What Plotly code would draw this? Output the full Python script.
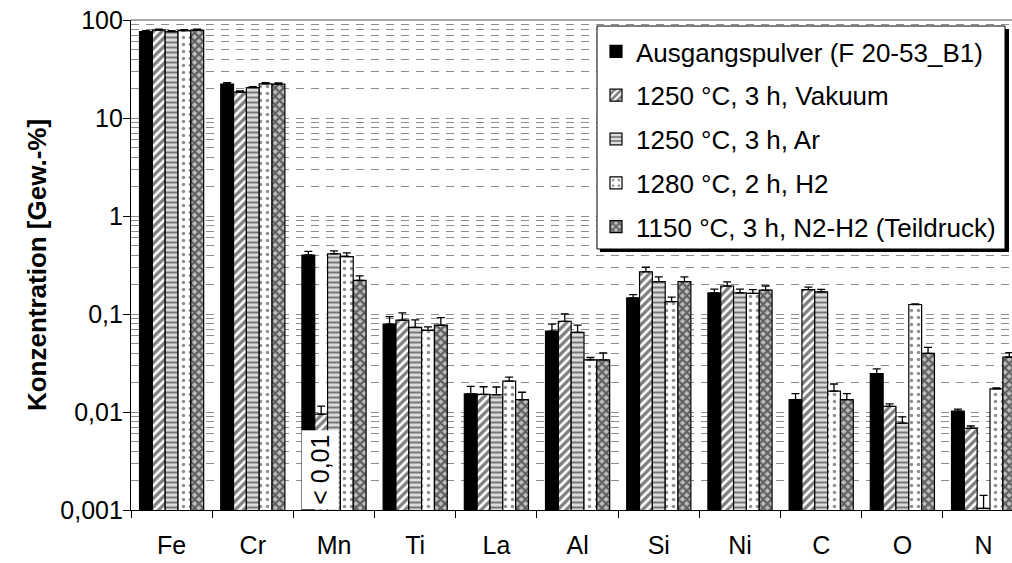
import plotly.graph_objects as go

# Elements on the x axis
elements = ["Fe", "Cr", "Mn", "Ti", "La", "Al", "Si", "Ni", "C", "O", "N"]

# Series names (legend)
series_names = [
    "Ausgangspulver (F 20-53_B1)",
    "1250 °C, 3 h, Vakuum",
    "1250 °C, 3 h, Ar",
    "1280 °C, 2 h, H2",
    "1150 °C, 3 h, N2-H2 (Teildruck)",
]

# Concentrations in Gew.-% per series
ausgangspulver = [76, 22.2, 0.40, 0.079, 0.0153, 0.067, 0.146, 0.164, 0.0134, 0.0246, 0.0102]
vakuum = [79, 18.4, 0.0095, 0.0865, 0.0151, 0.084, 0.27, 0.193, 0.177, 0.0114, 0.0068]
argon = [76, 20.4, 0.41, 0.073, 0.015, 0.065, 0.214, 0.164, 0.168, 0.0077, 0.00104]
wasserstoff = [78, 22.3, 0.385, 0.068, 0.0207, 0.034, 0.134, 0.162, 0.0163, 0.125, 0.0172]
n2_h2 = [79, 22.2, 0.22, 0.077, 0.0134, 0.034, 0.214, 0.175, 0.0134, 0.0397, 0.0364]

# Upper error (standard deviation) per series
err_ausgangspulver = [2, 0.8, 0.035, 0.015, 0.003, 0.012, 0.012, 0.015, 0.002, 0.003, 0.0005]
err_vakuum = [1.5, 0.5, 0.002, 0.016, 0.003, 0.016, 0.03, 0.02, 0.011, 0.0007, 0.0004]
err_argon = [2, 0.5, 0.03, 0.014, 0.003, 0.012, 0.025, 0.015, 0.01, 0.0012, 0.00037]
err_wasserstoff = [1.5, 0.6, 0.035, 0.006, 0.002, 0.002, 0.015, 0.015, 0.003, 0.002, 0.0004]
err_n2_h2 = [1.5, 0.6, 0.025, 0.015, 0.0025, 0.006, 0.025, 0.018, 0.002, 0.006, 0.004]

values = [ausgangspulver, vakuum, argon, wasserstoff, n2_h2]
errors = [err_ausgangspulver, err_vakuum, err_argon, err_wasserstoff, err_n2_h2]

# Fill patterns for the five series
patterns = [
    dict(shape="", bgcolor="black"),
    dict(shape="/", fgcolor="black", bgcolor="white", size=6, solidity=0.55),
    dict(shape="-", fgcolor="#111111", bgcolor="#dcdcdc", size=5, solidity=0.4),
    dict(shape=".", fgcolor="#222222", bgcolor="white", size=7, solidity=0.2),
    dict(shape="x", fgcolor="black", bgcolor="#c0c0c0", size=6, solidity=0.6),
]
base_colors = ["black", "white", "#dcdcdc", "white", "#c0c0c0"]

FONT = "Liberation Sans, Arial, sans-serif"

fig = go.Figure()
for i, (name, vals, errs) in enumerate(zip(series_names, values, errors)):
    fig.add_trace(go.Bar(
        x=elements,
        y=vals,
        name=name,
        legendgroup=f"g{i}",
        marker=dict(
            color=base_colors[i],
            pattern=patterns[i],
            line=dict(color="black", width=1.2),
        ),
        error_y=dict(
            type="data",
            symmetric=False,
            array=errs,
            arrayminus=[0] * len(errs),
            color="black",
            thickness=1.3,
            width=4,
        ),
    ))

# Tick values for the logarithmic axis
major_ticks = [0.001, 0.01, 0.1, 1, 10, 100]
major_labels = ["0,001", "0,01", "0,1", "1", "10", "100"]
minor_ticks = [m * 10 ** e for e in range(-3, 2) for m in range(2, 10)]

# plot area in pixels: x 131..1012 (right part runs past the page), y 20..510
PX0, PW, PY0, PH = 131, 881, 20, 490


def px_x(px):
    return (px - PX0) / PW


def px_y(py):
    return 1 - (py - PY0) / PH


fig.update_layout(
    width=1012,
    height=563,
    margin=dict(l=131, r=0, t=20, b=53),
    paper_bgcolor="white",
    plot_bgcolor="white",
    font=dict(family=FONT, size=25, color="black"),
    barmode="group",
    bargap=0.21,
    bargroupgap=0,
    showlegend=True,
    legend=dict(
        x=px_x(596),
        y=px_y(28),
        xanchor="left",
        yanchor="top",
        bgcolor="rgba(0,0,0,0)",
        borderwidth=0,
        font=dict(family=FONT, size=26, color="black"),
        traceorder="grouped",
        tracegroupgap=7,
        itemwidth=30,
    ),
    xaxis=dict(
        type="category",
        range=[-0.5, 10.35],
        showline=True,
        linecolor="black",
        linewidth=1.2,
        ticks="outside",
        tickson="boundaries",
        ticklen=7,
        tickcolor="black",
        ticklabelstandoff=13,
        showgrid=False,
        tickfont=dict(size=25),
    ),
    yaxis=dict(
        type="log",
        range=[-3, 2],
        tickmode="array",
        tickvals=major_ticks,
        ticktext=major_labels,
        showline=True,
        linecolor="black",
        linewidth=1.2,
        ticks="outside",
        ticklen=7,
        tickcolor="black",
        ticklabelstandoff=-5,
        showgrid=True,
        gridcolor="#8c8c8c",
        griddash="8px,7px",
        gridwidth=1,
        minor=dict(
            tickmode="array",
            tickvals=minor_ticks,
            ticks="",
            showgrid=True,
            gridcolor="#8c8c8c",
            griddash="8px,7px",
            gridwidth=1,
        ),
        zeroline=False,
        tickfont=dict(size=25),
        title=dict(
            text="<b>Konzentration [Gew.-%]</b>",
            font=dict(size=26),
            standoff=6,
        ),
    ),
    shapes=[
        # plot-area border at the top
        dict(type="line", xref="paper", yref="paper", x0=0, x1=1, y0=1, y1=1,
             line=dict(color="#8c8c8c", width=1.5)),
        # legend drop shadow
        dict(type="rect", xref="paper", yref="paper",
             x0=px_x(600), x1=px_x(1009), y0=px_y(252), y1=px_y(29),
             fillcolor="black", line=dict(width=0), layer="above"),
        # legend frame
        dict(type="rect", xref="paper", yref="paper",
             x0=px_x(597), x1=px_x(1005), y0=px_y(249), y1=px_y(26),
             fillcolor="white", line=dict(color="black", width=1), layer="above"),
    ],
    annotations=[
        dict(
            x=2, xref="x", xshift=-14,
            y=-2.59, yref="y",
            text="< 0,01",
            textangle=-90,
            showarrow=False,
            bgcolor="white",
            borderpad=4,
            font=dict(family=FONT, size=25, color="black"),
        )
    ],
)

fig.write_html("out.html")
